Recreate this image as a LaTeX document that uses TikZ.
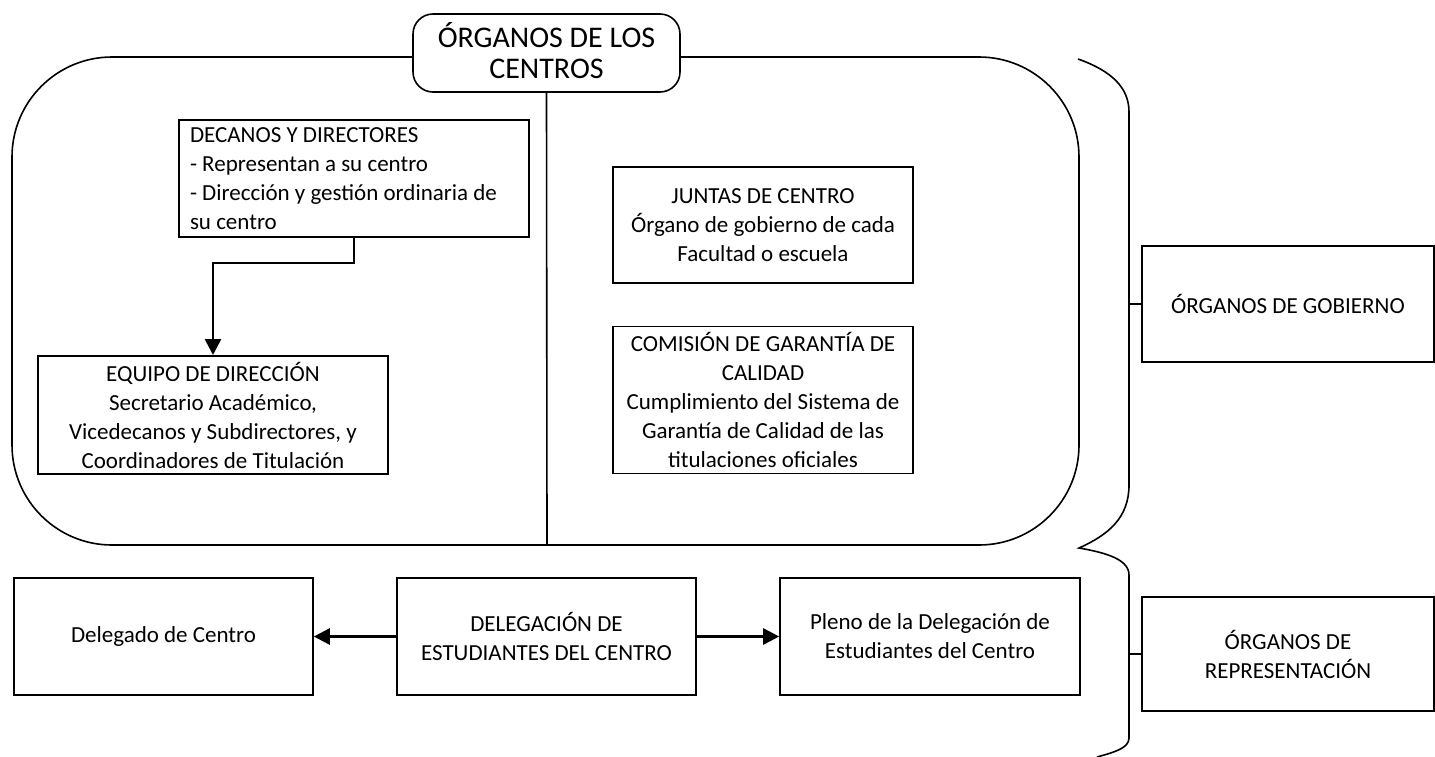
\documentclass[tikz,border=0pt]{standalone}
\usepackage{fontspec}
\setmainfont{Carlito}
\usetikzlibrary{arrows.meta,calc}
\begin{document}
\begin{tikzpicture}[x=1pt,y=-1pt,
  line width=1.6pt,
  txt/.style={font=\fontsize{23}{29}\selectfont},
  box/.style={draw, rectangle, txt, align=center, inner sep=6pt},
  arr/.style={line width=2.6pt, -{Triangle[length=16pt,width=16pt]}},
  brace/.style={line width=1.6pt}
]
\useasboundingbox (0,0) rectangle (1435,756);
% big rounded container
\draw[rounded corners=100pt] (12,57) rectangle (1079,545);
% title
\node[draw, fill=white, rounded corners=20pt, minimum width=267pt, minimum height=78pt,
      align=center, inner sep=4pt, font=\fontsize{30}{31}\selectfont] (title) at (546.5,53) {ÓRGANOS DE LOS\\CENTROS\vphantom{g}};
\coordinate (divbot) at (547,545);
\draw (title.south) -- (divbot);
% left column
\node[box, minimum width=350pt, minimum height=117pt, align=flush left, text width=328pt, inner xsep=11pt] (dec) at (354,178.5)
 {DECANOS Y DIRECTORES\\- Representan a su centro\\- Dirección y gestión ordinaria de\\su centro};
\node[box, minimum width=350pt, minimum height=116pt] (eq) at (213,415)
 {EQUIPO DE DIRECCIÓN\\Secretario Académico,\\Vicedecanos y Subdirectores, y\\Coordinadores de Titulación};
\draw[arr] (dec.south) -- ++(0,25) -| (eq.north);
% right column
\node[box, minimum width=300pt, minimum height=116pt] (jun) at (763,225)
 {JUNTAS DE CENTRO\\Órgano de gobierno de cada\\Facultad o escuela};
\node[box, minimum width=300pt, minimum height=146pt] (com) at (763,400)
 {COMISIÓN DE GARANTÍA DE\\CALIDAD\\Cumplimiento del Sistema de\\Garantía de Calidad de las\\titulaciones oficiales};
% bottom row
\node[box, minimum width=299pt, minimum height=117pt] (del) at (163.5,636.5) {Delegado de Centro};
\node[box, minimum width=299pt, minimum height=117pt] (dele) at (546.5,636.5) {DELEGACIÓN DE\\ESTUDIANTES DEL CENTRO};
\node[box, minimum width=300pt, minimum height=117pt] (ple) at (930,636.5) {Pleno de la Delegación de\\Estudiantes del Centro};
\draw[arr] (dele.west) -- (del.east);
\draw[arr] (dele.east) -- (ple.west);
% right boxes
\node[box, minimum width=292pt, minimum height=116pt] (gob) at (1288,304) {ÓRGANOS DE GOBIERNO};
\node[box, minimum width=292pt, minimum height=114pt] (rep) at (1288,654) {ÓRGANOS DE\\REPRESENTACIÓN};
% braces
\coordinate (tipA) at (1079,548);
\coordinate (bA) at (1129,304);
\coordinate (bB) at (1129,654);
\draw[brace] (1078,59) .. controls (1112,71) and (1129,88) .. (1129,112)
  -- (1129,485) .. controls (1129,518) and (1108,535) .. (tipA)
  .. controls (1108,553) and (1129,560) .. (1129,575)
  -- (1129,738) .. controls (1129,748) and (1115,752) .. (1097,757);
\draw (bA) -- (gob.west);
\draw (bB) -- (rep.west);
\end{tikzpicture}
\end{document}
